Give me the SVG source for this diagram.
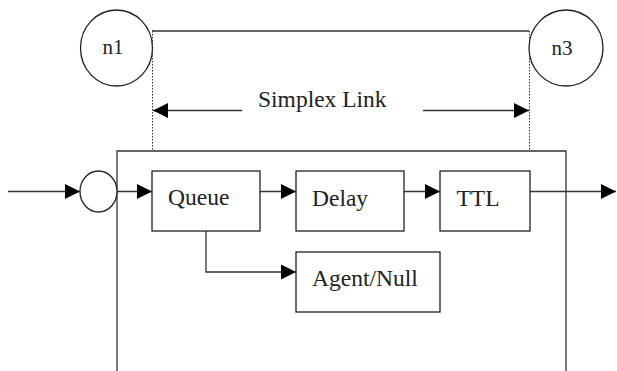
<svg xmlns="http://www.w3.org/2000/svg" width="617" height="371" viewBox="0 0 617 371">
<defs>
<marker id="ah" markerUnits="userSpaceOnUse" markerWidth="16" markerHeight="16" refX="15" refY="7.5" orient="auto">
<path d="M0,0 L15,7.5 L0,15 z" fill="#000"/>
</marker>
</defs>
<rect width="617" height="371" fill="#fff"/>
<g id="frame" stroke="#333" stroke-width="1.3" fill="none">
<path d="M117,371 V151 H566 V371"/>
</g>
<g id="connectors" stroke="#333" stroke-width="1.3" fill="none">
<line x1="152" y1="31" x2="529" y2="31"/>
<line x1="152.5" y1="31" x2="152.5" y2="151" stroke-width="1" stroke-dasharray="1.5 1.5"/>
<line x1="529.5" y1="31" x2="529.5" y2="151" stroke-width="1" stroke-dasharray="1.5 1.5"/>
<line x1="242" y1="110.5" x2="153" y2="110.5" marker-end="url(#ah)"/>
<line x1="423" y1="110.5" x2="529" y2="110.5" marker-end="url(#ah)"/>
<line x1="8" y1="191.5" x2="80" y2="191.5" marker-end="url(#ah)"/>
<line x1="117" y1="191.5" x2="152" y2="191.5" marker-end="url(#ah)"/>
<line x1="260" y1="191.5" x2="296" y2="191.5" marker-end="url(#ah)"/>
<line x1="404" y1="191.5" x2="440" y2="191.5" marker-end="url(#ah)"/>
<line x1="530" y1="191.5" x2="616" y2="191.5" marker-end="url(#ah)"/>
<path d="M206,231 V272 H296" marker-end="url(#ah)"/>
</g>
<g id="n1">
<ellipse cx="116.5" cy="48" rx="36" ry="38" fill="#fff" stroke="#222" stroke-width="1.3"/>
<text x="113" y="53.5" text-anchor="middle" font-family="Liberation Serif" font-size="21" fill="#222">n1</text>
</g>
<g id="n3">
<ellipse cx="566" cy="48" rx="37" ry="38" fill="#fff" stroke="#222" stroke-width="1.3"/>
<text x="562" y="54.5" text-anchor="middle" font-family="Liberation Serif" font-size="21" fill="#222">n3</text>
</g>
<g id="simplex-label">
<text x="258" y="107" font-family="Liberation Serif" font-size="23.5" fill="#222">Simplex Link</text>
</g>
<g id="entry">
<ellipse cx="98.5" cy="191.5" rx="18.5" ry="20.5" fill="#fff" stroke="#222" stroke-width="1.3"/>
</g>
<g id="queue">
<rect x="152" y="171" width="108" height="60" fill="#fff" stroke="#222" stroke-width="1.3"/>
<text x="168" y="205" font-family="Liberation Serif" font-size="23.5" fill="#222">Queue</text>
</g>
<g id="delay">
<rect x="296" y="171" width="108" height="60" fill="#fff" stroke="#222" stroke-width="1.3"/>
<text x="312" y="205.5" font-family="Liberation Serif" font-size="23.5" fill="#222">Delay</text>
</g>
<g id="ttl">
<rect x="440" y="171" width="90" height="60" fill="#fff" stroke="#222" stroke-width="1.3"/>
<text x="456.5" y="205.5" font-family="Liberation Serif" font-size="23.5" fill="#222">TTL</text>
</g>
<g id="agent">
<rect x="296" y="252" width="144" height="60" fill="#fff" stroke="#222" stroke-width="1.3"/>
<text x="312" y="285.5" font-family="Liberation Serif" font-size="23.5" fill="#222">Agent/Null</text>
</g>
</svg>
